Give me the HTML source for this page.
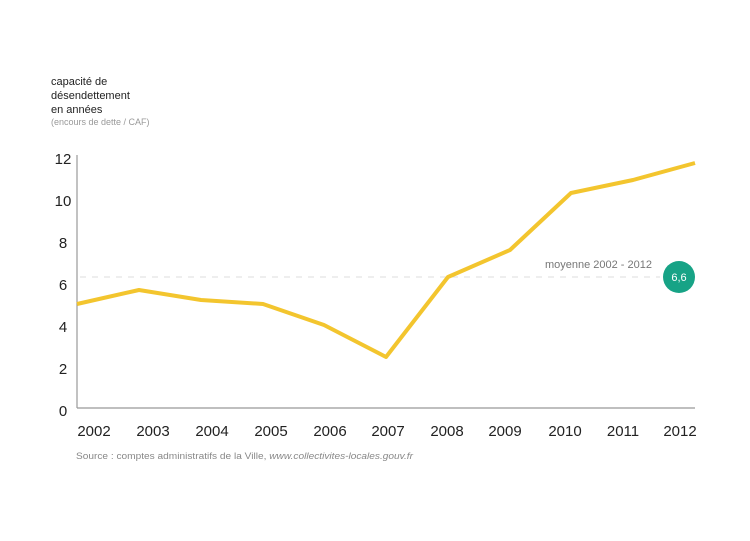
<!DOCTYPE html>
<html><head><meta charset="utf-8"><style>
body{margin:0;background:#fff;width:750px;height:536px;overflow:hidden;font-family:"Liberation Sans",sans-serif}
</style></head><body>
<svg width="750" height="536" xmlns="http://www.w3.org/2000/svg" font-family="Liberation Sans, sans-serif">
<text x="51" y="85" font-size="11" fill="#222">capacité de</text>
<text x="51" y="99" font-size="11" fill="#222">désendettement</text>
<text x="51" y="113" font-size="11" fill="#222">en années</text>
<text x="51" y="125" font-size="9" fill="#999">(encours de dette / CAF)</text>
<g font-size="15" fill="#222" text-anchor="middle">
<text x="63" y="164">12</text><text x="63" y="206">10</text><text x="63" y="248">8</text><text x="63" y="290">6</text><text x="63" y="332">4</text><text x="63" y="374">2</text><text x="63" y="416">0</text>
</g>
<line x1="77" y1="155" x2="77" y2="408" stroke="#999" stroke-width="1.2"/>
<line x1="77" y1="408" x2="695" y2="408" stroke="#999" stroke-width="1.2"/>
<line x1="80" y1="277" x2="660" y2="277" stroke="#ddd" stroke-width="1" stroke-dasharray="6,6"/>
<text x="652" y="268" font-size="11" fill="#777" text-anchor="end">moyenne 2002 - 2012</text>
<circle cx="679" cy="277" r="16" fill="#17a386"/>
<text x="679" y="281" font-size="11" fill="#fff" text-anchor="middle">6,6</text>
<polyline fill="none" stroke="#f3c52e" stroke-width="4" stroke-linejoin="round" points="77,304 139,290 201,300 263,304 324,325 386,357 448,277 510,250 571,193 633,180 695,163"/>
<g font-size="15" fill="#222" text-anchor="middle">
<text x="94" y="436">2002</text><text x="153" y="436">2003</text><text x="212" y="436">2004</text><text x="271" y="436">2005</text><text x="330" y="436">2006</text><text x="388" y="436">2007</text><text x="447" y="436">2008</text><text x="505" y="436">2009</text><text x="565" y="436">2010</text><text x="623" y="436">2011</text><text x="680" y="436">2012</text>
</g>
<text x="76" y="459" font-size="9" fill="#888" textLength="337" lengthAdjust="spacingAndGlyphs">Source : comptes administratifs de la Ville, <tspan font-style="italic">www.collectivites-locales.gouv.fr</tspan></text>
</svg>
</body></html>
